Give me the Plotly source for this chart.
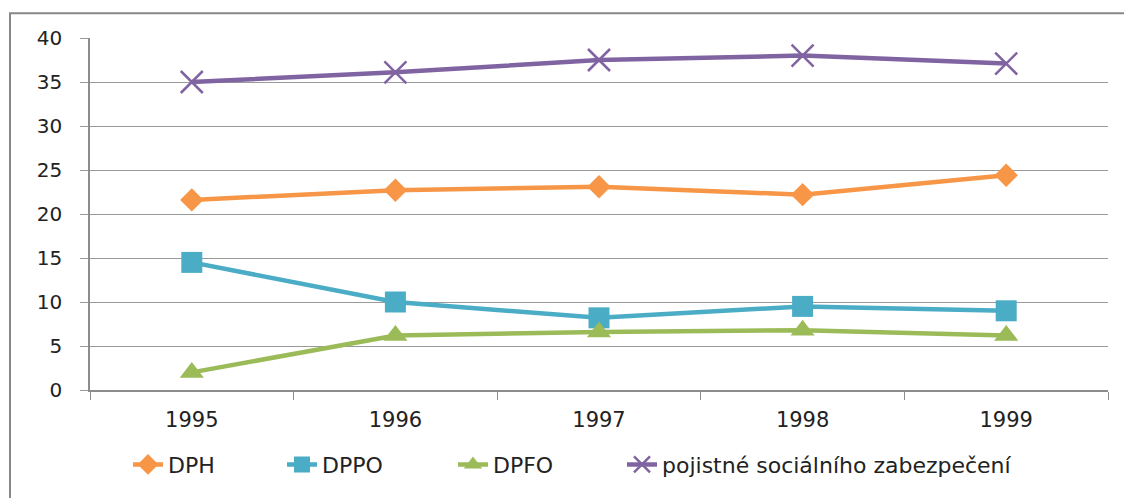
import plotly.graph_objects as go

years = ["1995", "1996", "1997", "1998", "1999"]
dph = [21.6, 22.7, 23.1, 22.2, 24.4]
dppo = [14.5, 10.0, 8.2, 9.5, 9.0]
dpfo = [2.0, 6.2, 6.6, 6.8, 6.2]
pojistne = [35.0, 36.1, 37.5, 38.0, 37.1]

series = [
    ("DPH", dph, "#F79646", "diamond", 18, None, "legend", 128),
    ("DPPO", dppo, "#4BACC6", "square", 21, None, "legend2", 282),
    ("DPFO", dpfo, "#9BBB59", "triangle-up", 21, None, "legend3", 453),
    ("pojistné sociálního zabezpečení", pojistne, "#8064A2", "x-thin", 22, 2.5, "legend4", 622),
]

font = "DejaVu Sans"
fig = go.Figure()
legends = {}
for name, vals, color, sym, size, lw, lg, lx in series:
    mk = dict(symbol=sym, size=size, color=color)
    if lw:
        mk["line"] = dict(color=color, width=lw)
    fig.add_trace(go.Scatter(x=years, y=vals, name=name, mode="lines+markers",
                             line=dict(color=color, width=4.5), marker=mk, legend=lg))
    legends[lg] = dict(orientation="h", x=(lx - 90) / 1018, xanchor="left",
                       y=-0.212, yanchor="middle", bgcolor="rgba(0,0,0,0)",
                       font=dict(family=font, size=22, color="#222222"))

fig.update_layout(
    width=1124, height=490,
    margin=dict(l=82, r=24, t=30, b=106),
    paper_bgcolor="white", plot_bgcolor="white",
    font=dict(family=font, size=19, color="#222222"),
    showlegend=True,
    xaxis=dict(type="category", range=[-0.5, 4.5], showgrid=False,
               showline=True, linecolor="#8c8c8c", linewidth=1.5,
               ticks="outside", tickson="boundaries", ticklen=8, tickcolor="#8c8c8c",
               tickfont=dict(size=21), ticklabelstandoff=10),
    yaxis=dict(range=[0, 40], dtick=5, showgrid=True, gridcolor="#9a9a9a", gridwidth=1,
               showline=True, linecolor="#8c8c8c", linewidth=1.5, zeroline=False,
               ticks="outside", ticklen=8, tickcolor="#9a9a9a",
               tickfont=dict(size=20), ticklabelstandoff=14),
    shapes=[dict(type="rect", xref="paper", yref="paper",
                 x0=(10 - 90) / 1018, x1=(1140 - 90) / 1018,
                 y0=(392 - 510) / 354, y1=(392 - 13) / 354,
                 line=dict(color="#888888", width=2), layer="below")],
    **legends,
)

fig.write_html("out.html")
